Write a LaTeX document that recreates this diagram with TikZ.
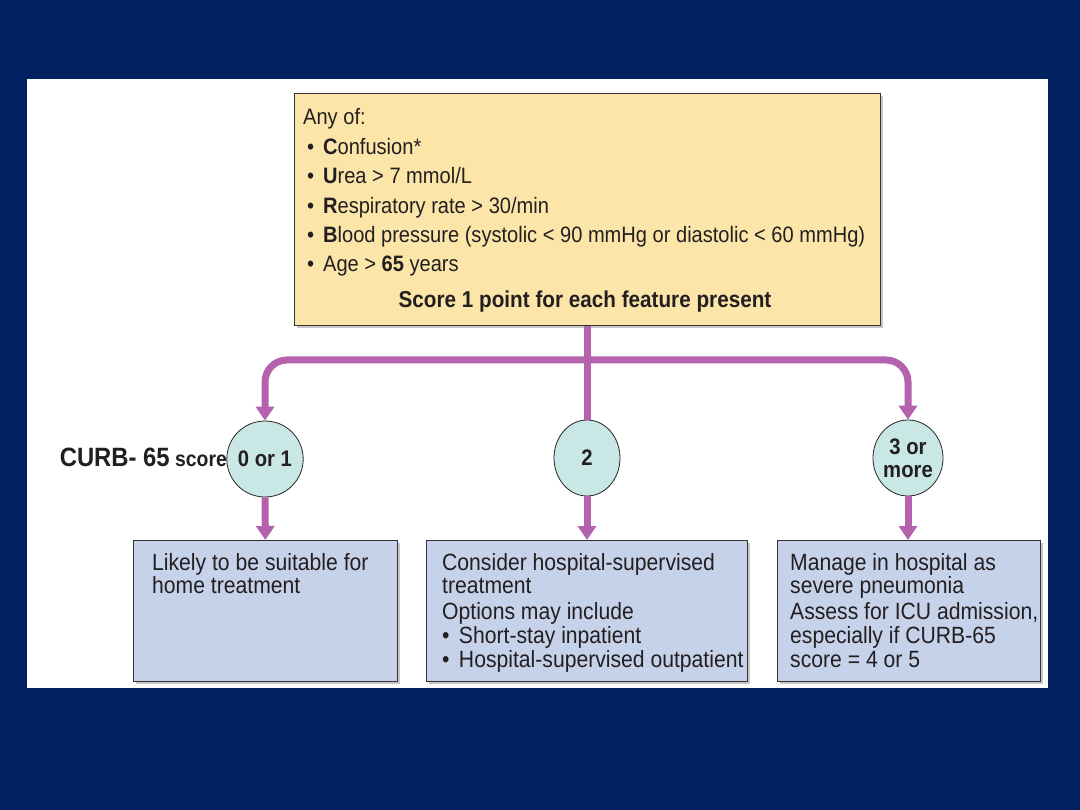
\documentclass[tikz,border=0pt]{standalone}
\usepackage{fontspec}
\setmainfont{Liberation Sans}[FakeStretch=0.9]
\usetikzlibrary{arrows.meta,shapes.geometric,shadows}
\definecolor{navy}{HTML}{00205F}
\definecolor{paleyellow}{HTML}{FCE5A9}
\definecolor{paleblue}{HTML}{C6D1EA}
\definecolor{paleteal}{HTML}{C9E7E5}
\definecolor{flowpurple}{HTML}{B562AE}
\definecolor{inkgray}{HTML}{231F20}
\newcommand{\bul}{•\hspace{0.4em}}
\begin{document}
\begin{tikzpicture}[x=1pt,y=-1pt,
  boxshadow/.style={drop shadow={shadow xshift=3pt,shadow yshift=-3pt,opacity=0.4,fill=black!55}},
  topbox/.style={draw=black!80,line width=0.8pt,fill=paleyellow,boxshadow,anchor=north west,inner sep=0pt},
  outbox/.style={draw=black!80,line width=0.8pt,fill=paleblue,boxshadow,anchor=north west,inner sep=0pt},
  scorecirc/.style={ellipse,draw=black!85,line width=0.8pt,fill=paleteal,minimum width=66pt,minimum height=76pt,inner sep=0pt,align=center,font=\fontsize{22.5}{23}\selectfont\bfseries,text=inkgray},
  toptxt/.style={anchor=base west,inner sep=0pt,font=\fontsize{22.3}{26}\selectfont,text=inkgray},
  outtxt/.style={anchor=base west,inner sep=0pt,font=\fontsize{23.5}{24}\selectfont,text=inkgray},
  flow/.style={draw=flowpurple,line width=7pt,rounded corners=22pt},
  flowarrow/.style={flow,-{Triangle[width=18pt,length=14pt]}}
]
% background and panel
\fill[navy] (0,0) rectangle (1080,810);
\fill[white] (27,79) rectangle (1048,688);

% top box
\node[topbox,minimum width=586pt,minimum height=232pt] (top) at (294,93) {};
\node[toptxt] (l0) at (303,125) {Any of:};
\node[toptxt] (l1) at (307,155) {\bul\textbf{C}onfusion*};
\node[toptxt] (l2) at (307,184) {\bul\textbf{U}rea > 7 mmol/L};
\node[toptxt] (l3) at (307,214) {\bul\textbf{R}espiratory rate > 30/min};
\node[toptxt] (l4) at (307,243) {\bul\textbf{B}lood pressure (systolic < 90 mmHg or diastolic < 60 mmHg)};
\node[toptxt] (l5) at (307,272) {\bul Age > \textbf{65} years};
\node[anchor=base,inner sep=0pt,font=\fontsize{23}{26}\selectfont\bfseries,text=inkgray] (scoreline) at (585,308) {Score 1 point for each feature present};

% score circles
\node[scorecirc] (c1) at (265,459) {0 or 1};
\node[scorecirc] (c2) at (587,458) {2};
\node[scorecirc] (c3) at (908,458) {3 or\\more};
\node[anchor=base east,inner sep=0pt,text=inkgray,font=\fontsize{21.5}{26}\selectfont\bfseries] (curb) at (227,467)
  {{\fontsize{26.5}{26}\selectfont CURB- 65}\hspace{0.25em}score};

% outcome boxes
\node[outbox,minimum width=264pt,minimum height=141pt] (b1) at (133,540) {};
\node[outbox,minimum width=321pt,minimum height=141pt] (b2) at (426,540) {};
\node[outbox,minimum width=263pt,minimum height=141pt] (b3) at (777,540) {};

\node[outtxt] (t11) at (152,570) {Likely to be suitable for};
\node[outtxt] (t12) at (152,593) {home treatment};

\node[outtxt] (t21) at (442,570) {Consider hospital-supervised};
\node[outtxt] (t22) at (442,593) {treatment};
\node[outtxt] (t23) at (442,619) {Options may include};
\node[outtxt] (t24) at (442,643) {\bul Short-stay inpatient};
\node[outtxt] (t25) at (442,667) {\bul Hospital-supervised outpatient};

\node[outtxt] (t31) at (790,570) {Manage in hospital as};
\node[outtxt] (t32) at (790,593) {severe pneumonia};
\node[outtxt] (t33) at (790,619) {Assess for ICU admission,};
\node[outtxt] (t34) at (790,643) {especially if CURB-65};
\node[outtxt] (t35) at (790,667) {score = 4 or 5};

% connectors
\coordinate (j) at (587,360);
\draw[flow] (top.south -| c2) -- (c2.north);
\draw[flowarrow] (j) -| (c1.north);
\draw[flowarrow] (j) -| (c3.north);
\draw[flowarrow] (c1.south) -- (b1.north);
\draw[flowarrow] (c2.south) -- (b2.north -| c2);
\draw[flowarrow] (c3.south) -- (b3.north -| c3);
\end{tikzpicture}
\end{document}
